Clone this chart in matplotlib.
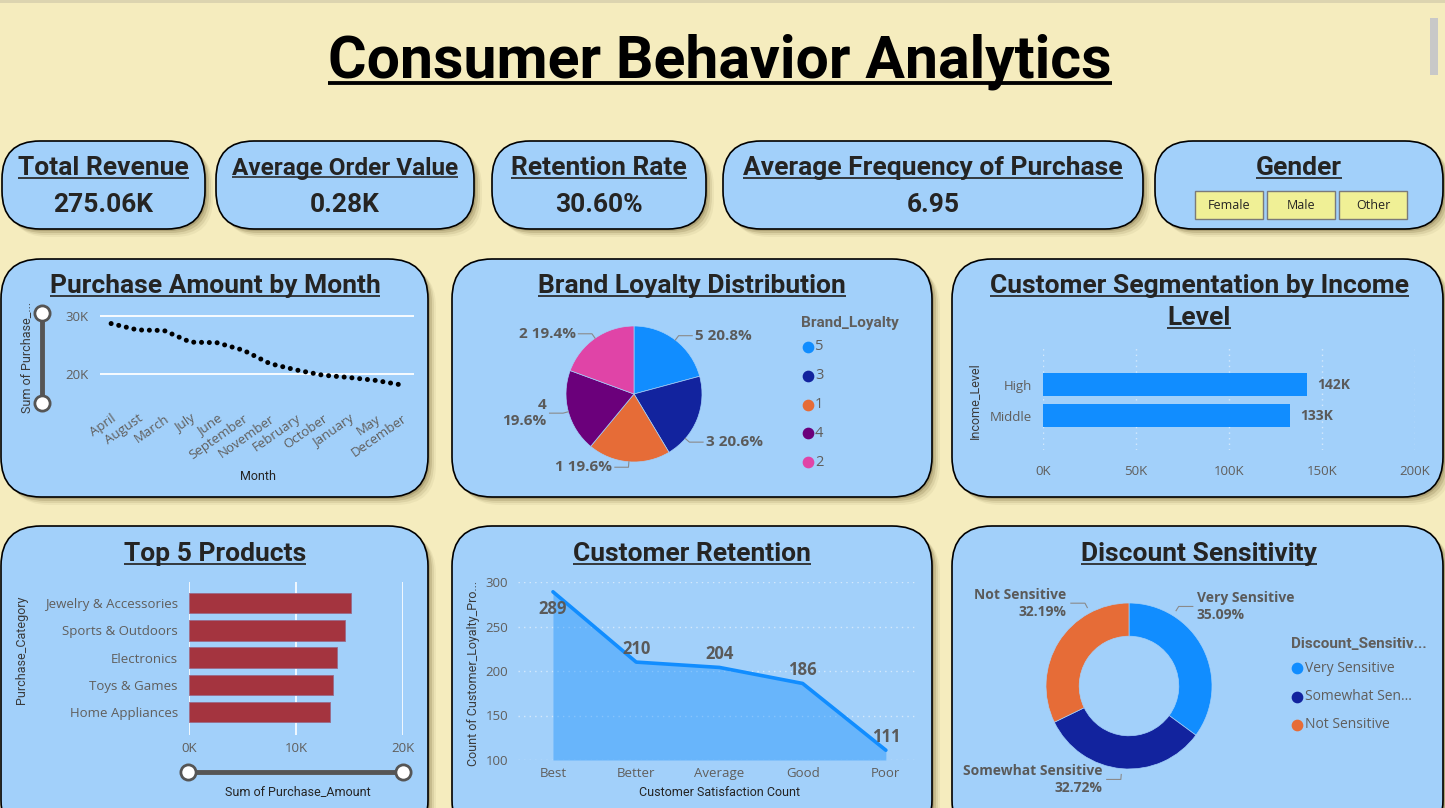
import numpy as np
import matplotlib
matplotlib.use('Agg')
import matplotlib.pyplot as plt
from matplotlib.patches import FancyBboxPatch, Rectangle

# ---- data ----
kpi_titles = ['Total Revenue', 'Average Order Value', 'Retention Rate', 'Average Frequency of Purchase']
kpi_values = ['275.06K', '0.28K', '30.60%', '6.95']
genders = ['Female', 'Male', 'Other']

months = ['April', 'August', 'March', 'July', 'June', 'September', 'November',
          'February', 'October', 'January', 'May', 'December']
month_amount = [28700, 27600, 27500, 25500, 25400, 24100, 21800, 20700, 19800, 19400, 18900, 18100]

loyalty_levels = ['5', '3', '1', '4', '2']
loyalty_pct = [20.8, 20.6, 19.6, 19.6, 19.4]

income_levels = ['High', 'Middle']
income_amount = [142000, 133000]

products = ['Jewelry & Accessories', 'Sports & Outdoors', 'Electronics', 'Toys & Games', 'Home Appliances']
product_amount = [15100, 14600, 13800, 13500, 13200]

satisfaction = ['Best', 'Better', 'Average', 'Good', 'Poor']
retention_count = [289, 210, 204, 186, 111]

discount_levels = ['Very Sensitive', 'Somewhat Sensitive', 'Not Sensitive']
discount_pct = [35.09, 32.72, 32.19]

# ---- style ----
W, H = 1445, 808
BG = '#F5ECBE'
CARD = '#A2D0FA'
DARK = '#252423'
GREY = '#605E5C'
LBL = '#5A5A5A'
PBI = ['#118DFF', '#12239E', '#E66C37', '#6B007B', '#E044A7']
HEAD = ['Roboto', 'DejaVu Sans']
TICK = 9.5
plt.rcParams['font.family'] = ['Open Sans', 'DejaVu Sans']

fig = plt.figure(figsize=(W / 100, H / 100), dpi=100, facecolor=BG)
bg = fig.add_axes([0, 0, 1, 1])
bg.set_xlim(0, W)
bg.set_ylim(H, 0)
bg.axis('off')


def px_axes(x, y, w, h):
    ax = fig.add_axes([x / W, 1 - (y + h) / H, w / W, h / H])
    ax.set_facecolor('none')
    return ax


def card(x0, y0, x1, y1, rad):
    st = 'round,pad=0,rounding_size=%d' % rad
    for k, a in [(8, 0.06), (6, 0.10), (4, 0.16), (2, 0.22)]:
        bg.add_patch(FancyBboxPatch((x0 + k, y0 + k), x1 - x0, y1 - y0, boxstyle=st,
                                    fc='#5a4a20', ec='none', alpha=a))
    bg.add_patch(FancyBboxPatch((x0, y0), x1 - x0, y1 - y0, boxstyle=st, fc=CARD, ec='black', lw=1.2))


underlines = []


def head(x, y, s, size=19, color=DARK):
    t = bg.text(x, y, s, fontsize=size, family=HEAD, fontweight='bold', color=color,
                ha='center', va='baseline')
    underlines.append((t, size, color))
    return t


def slider(xs, ys):
    bg.plot(xs, ys, color='#555555', lw=3.5, solid_capstyle='butt', zorder=5)
    bg.scatter(xs, ys, s=120, fc='white', ec='#555555', lw=2, zorder=6)


# top strip + scrollbar
bg.add_patch(Rectangle((0, 0), W, 3, fc='#DCD4B0', ec='none'))
bg.add_patch(Rectangle((1430, 18), 8, 57, fc='#C8C8C8', ec='none'))

head(720, 77, 'Consumer Behavior Analytics', size=42.5, color='black')

# ---- KPI cards ----
kpi_x = [(2, 205), (216, 474), (492, 706), (723, 1143)]
for (x0, x1), t, v in zip(kpi_x, kpi_titles, kpi_values):
    card(x0, 141, x1, 229, 38)
    head((x0 + x1) / 2, 175, t, size=19 if len(t) != 19 else 17.5)
    bg.text((x0 + x1) / 2, 212, v, fontsize=19, family=HEAD, fontweight='bold', color=DARK,
            ha='center', va='baseline')

card(1155, 141, 1443, 229, 38)
head(1299, 175, 'Gender')
for i, g in enumerate(genders):
    bx = 1195 + i * 72
    bg.add_patch(Rectangle((bx, 191), 68, 28, fc='#F0F096', ec='#7A7A7A', lw=1))
    bg.text(bx + 34, 205.5, g, fontsize=9, color=DARK, ha='center', va='center')

# ---- chart cards ----
for x0, x1 in [(1, 428), (452, 932), (952, 1443)]:
    card(x0, 259, x1, 497, 40)
    card(x0, 526, x1, 840, 40)

# Purchase Amount by Month
head(215, 293, 'Purchase Amount by Month')
ax1 = px_axes(100, 300, 314, 105)
xm = np.arange(len(months))
ax1.plot(xm, month_amount, color='black', lw=3.6, ls=(0, (0.01, 1.55)), dash_capstyle='round')
ax1.set_xlim(-0.42, 11.45)
ax1.set_ylim(14660, 32760)
ax1.set_yticks([20000, 30000])
ax1.set_yticklabels(['20K', '30K'])
ax1.set_xticks(xm)
ax1.set_xticklabels(months, rotation=35, ha='right', rotation_mode='anchor')
ax1.grid(axis='y', color='white', lw=1.3)
ax1.set_axisbelow(True)
ax1.tick_params(length=0, labelcolor=GREY, labelsize=TICK, pad=5)
ax1.tick_params(axis='y', pad=8)
for s in ax1.spines.values():
    s.set_visible(False)
bg.text(258, 477, 'Month', fontsize=9, family=HEAD, color=DARK, ha='center', va='center')
bg.text(27, 357, 'Sum of Purchase_...', fontsize=9, family=HEAD, color='#3A3A3A',
        ha='center', va='center', rotation=90)
slider([42, 42], [313, 403])

# Brand Loyalty Distribution
head(692, 293, 'Brand Loyalty Distribution')
ax2 = px_axes(634 - 68, 394 - 68, 136, 136)
ax2.pie(loyalty_pct, colors=PBI, startangle=90, counterclock=False, radius=1,
        wedgeprops=dict(lw=0.5, ec=CARD))
ax2.set_xlim(-1, 1)
ax2.set_ylim(-1, 1)
lbl_sep = [' ', ' ', ' ', '\n', ' ']
lbl_shift = [0, -19, 0, 0, 0]   # degrees the leader is moved off the slice middle
cum = 0
for lev, p, sep, sh in zip(loyalty_levels, loyalty_pct, lbl_sep, lbl_shift):
    a = np.deg2rad(90 - (cum + p / 2) * 3.6 + sh)
    cum += p
    c, s_ = np.cos(a), np.sin(a)
    p0 = (1.0 * c, 1.0 * s_)
    p1 = (1.08 * c, 1.08 * s_)
    d = 1 if c >= 0 else -1
    p2 = (p1[0] + d * 0.2, p1[1])
    ax2.plot([p0[0], p1[0], p2[0]], [p0[1], p1[1], p2[1]], color='#8A8A8A', lw=0.8, clip_on=False)
    ax2.text(p2[0] + d * 0.04, p2[1], lev + sep + '%.1f%%' % p, fontsize=11, fontweight='bold',
             color=LBL, ha='left' if d > 0 else 'right', va='center', clip_on=False,
             multialignment='right' if d < 0 else 'left')
bg.text(801, 323, 'Brand_Loyalty', fontsize=11, family=HEAD, fontweight='bold', color=GREY,
        ha='left', va='center')
for i, (lev, col) in enumerate(zip(loyalty_levels, PBI)):
    yy = 347 + i * 28.8
    bg.scatter([808], [yy], s=55, color=col, zorder=5)
    bg.text(815, yy, lev, fontsize=10.5, color=GREY, ha='left', va='center')

# Customer Segmentation by Income Level
head(1199, 293, 'Customer Segmentation by Income')
head(1199, 325, 'Level')
ax3 = px_axes(1043, 348, 372, 102)
yi = np.arange(len(income_levels))
ax3.barh(yi, income_amount, height=0.74, color=PBI[0])
ax3.set_xlim(0, 200000)
ax3.set_ylim(2.11, -1.18)
ax3.set_xticks(np.arange(0, 200001, 50000))
ax3.set_xticklabels(['%dK' % (v // 1000) for v in range(0, 200001, 50000)])
ax3.set_yticks(yi)
ax3.set_yticklabels(income_levels)
ax3.grid(axis='x', color='white', alpha=0.55, ls=(0, (1, 3)), lw=1)
ax3.set_axisbelow(True)
ax3.tick_params(length=0, labelcolor=GREY, labelsize=TICK)
ax3.tick_params(axis='x', pad=11)
ax3.tick_params(axis='y', pad=8)
for s in ax3.spines.values():
    s.set_visible(False)
for i, v in enumerate(income_amount):
    ax3.text(v + 5400, i, '%dK' % round(v / 1000), fontsize=10, fontweight='bold', color=LBL,
             ha='left', va='center')
bg.text(974, 401, 'Income_Level', fontsize=9, family=HEAD, color='#3A3A3A',
        ha='center', va='center', rotation=90)

# Top 5 Products
head(215, 561, 'Top 5 Products')
ax4 = px_axes(189, 582, 214, 153)
yp = np.arange(len(products))
ax4.barh(yp, product_amount, height=0.75, color='#A4343F', ec='#9A6A88', lw=0.6)
ax4.set_xlim(0, 20000)
ax4.set_ylim(4.84, -0.77)
ax4.set_xticks([0, 10000, 20000])
ax4.set_xticklabels(['0K', '10K', '20K'])
ax4.set_yticks(yp)
ax4.set_yticklabels(products)
ax4.grid(axis='x', color='white', lw=1.2)
ax4.set_axisbelow(True)
ax4.tick_params(length=0, labelcolor=GREY, labelsize=TICK)
ax4.tick_params(axis='y', pad=8)
ax4.tick_params(axis='x', pad=5)
for s in ax4.spines.values():
    s.set_visible(False)
bg.text(298, 792, 'Sum of Purchase_Amount', fontsize=9, family=HEAD, color=DARK,
        ha='center', va='center')
bg.text(22, 650, 'Purchase_Category', fontsize=9, family=HEAD, color='#3A3A3A',
        ha='center', va='center', rotation=90)
slider([188, 403], [772, 772])

# Customer Retention
head(692, 561, 'Customer Retention')
ax5 = px_axes(518, 582, 397, 178)
xr = np.arange(len(satisfaction))
ax5.fill_between(xr, retention_count, 100, color=PBI[0], alpha=0.4, lw=0)
ax5.plot(xr, retention_count, color=PBI[0], lw=2.6, solid_capstyle='round')
ax5.set_xlim(-0.42, 4.35)
ax5.set_ylim(100, 300)
ax5.set_yticks(np.arange(100, 301, 50))
ax5.set_xticks(xr)
ax5.set_xticklabels(satisfaction)
ax5.grid(axis='y', color='white', alpha=0.55, ls=(0, (1, 3)), lw=1)
ax5.set_axisbelow(True)
ax5.tick_params(length=0, labelcolor=GREY, labelsize=TICK)
ax5.tick_params(axis='y', pad=7)
ax5.tick_params(axis='x', pad=5)
for s in ax5.spines.values():
    s.set_visible(False)
for i, v in enumerate(retention_count):
    yl = v + 14.6 if v + 24 < 300 else v - 19
    ax5.text(i, yl, str(v), fontsize=12, fontweight='bold', color=LBL, ha='center', va='center')
bg.text(720, 792, 'Customer Satisfaction Count', fontsize=9, family=HEAD, color=DARK,
        ha='center', va='center')
bg.text(473, 673, 'Count of Customer_Loyalty_Pro...', fontsize=9, family=HEAD, color='#3A3A3A',
        ha='center', va='center', rotation=90)

# Discount Sensitivity
head(1199, 561, 'Discount Sensitivity')
ax6 = px_axes(1129 - 83, 686 - 83, 166, 166)
ax6.pie(discount_pct, colors=PBI[:3], startangle=90, counterclock=False, radius=1,
        wedgeprops=dict(width=0.4, lw=0.5, ec=CARD))
ax6.set_xlim(-1, 1)
ax6.set_ylim(-1, 1)
donut_lbl_ang = [58, -95, 118]
for lev, p, ang in zip(discount_levels, discount_pct, donut_lbl_ang):
    a = np.deg2rad(ang)
    c, s_ = np.cos(a), np.sin(a)
    p0 = (1.07 * c, 1.07 * s_)
    p1 = (1.13 * c, 1.13 * s_)
    d = 1 if c >= 0 else -1
    p2 = (p1[0] + d * 0.17, p1[1])
    ax6.plot([p0[0], p1[0], p2[0]], [p0[1], p1[1], p2[1]], color='#8A8A8A', lw=0.8, clip_on=False)
    ax6.text(p2[0] + d * 0.05, p2[1], '%s\n%.2f%%' % (lev, p), fontsize=10, fontweight='bold',
             color=LBL, ha='left' if d > 0 else 'right', va='center', clip_on=False,
             multialignment='left' if d > 0 else 'right', linespacing=1.3)
bg.text(1291, 644, 'Discount_Sensitiv...', fontsize=11, family=HEAD, fontweight='bold', color=GREY,
        ha='left', va='center')
for i, (lev, col) in enumerate(zip(discount_levels, PBI)):
    yy = 668 + i * 28.5
    bg.scatter([1297], [yy], s=55, color=col, zorder=5)
    name = lev if len(lev) <= 14 else lev[:12] + '...'
    bg.text(1305, yy, name, fontsize=10, color=GREY, ha='left', va='center')

# underline headings
fig.canvas.draw()
r = fig.canvas.get_renderer()
for t, size, col in underlines:
    bb = t.get_window_extent(r)
    yb = t.get_position()[1] + size / 0.72 * 0.1
    bg.plot([bb.x0, bb.x1], [yb, yb], color=col, lw=size * 0.065, solid_capstyle='butt', zorder=6)

fig.savefig('out.png', dpi=100, facecolor=BG)
